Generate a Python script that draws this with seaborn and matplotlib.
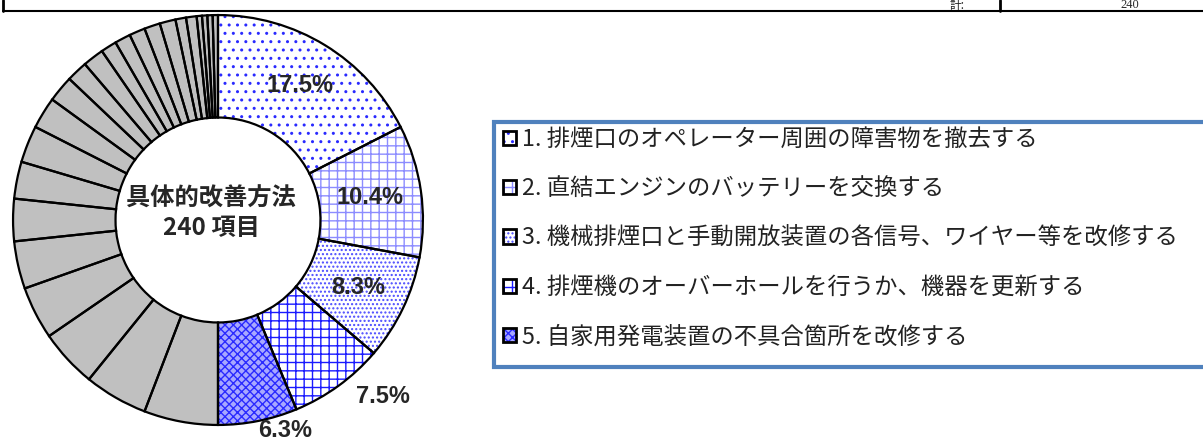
import matplotlib
matplotlib.use('Agg')
import matplotlib.pyplot as plt
import matplotlib.patches as mpatches
from matplotlib.lines import Line2D
from matplotlib.legend_handler import HandlerTuple
from matplotlib import font_manager
import numpy as np
import seaborn as sns

# Set default plot style
sns.set_style('white')
plt.rcParams['font.family'] = ['Noto Sans CJK JP', 'DejaVu Sans']

# data
legend_labels = [
    '1. 排煙口のオペレーター周囲の障害物を撤去する',
    '2. 直結エンジンのバッテリーを交換する',
    '3. 機械排煙口と手動開放装置の各信号、ワイヤー等を改修する',
    '4. 排煙機のオーバーホールを行うか、機器を更新する',
    '5. 自家用発電装置の不具合箇所を改修する',
]
top_counts = [42, 25, 20, 18, 15]
other_counts = [14, 12, 11, 10, 9, 8, 7, 7, 6, 5, 4, 4, 3, 3, 3, 3, 3, 2, 2, 1, 1, 1, 1]
pct_labels = ['17.5%', '10.4%', '8.3%', '7.5%', '6.3%']
center_title = '具体的改善方法'
center_sub = '240 項目'
table_label = '計:'
table_value = '240'

# styles
top_faces = ['white', 'white', 'white', 'white', '#a8a8ff']
top_hatches = ['..', '++', '....', '++', 'xxxx']
top_hatch_colors = ['#2a2aff', '#8c8cff', '#4a4aff', '#1a1aff', '#2a2aff']
gray = '#c0c0c0'
frame_blue = '#4f81bd'

names = {f.name for f in font_manager.fontManager.ttflist}
pct_family = 'Liberation Sans Narrow' if 'Liberation Sans Narrow' in names else 'Liberation Sans'

W, H = 1203, 446
fig = plt.figure(figsize=(W / 100, H / 100), dpi=100)
cx, cy, R = 218, 220, 207
ax = fig.add_axes([(cx - R) / W, (H - cy - R) / H, 2 * R / W, 2 * R / H])

counts = top_counts + other_counts
faces = top_faces + [gray] * len(other_counts)
ring = 0.5

# fill + hatch layer (hatch colour follows the edge colour)
wedges, _ = ax.pie(counts, startangle=90, counterclock=False, radius=1, colors=faces,
                   wedgeprops=dict(width=ring, linewidth=0))
for w, h, hc in zip(wedges, top_hatches, top_hatch_colors):
    w.set_edgecolor(hc)
    w.set_hatch(h)
# outline layer
ax.pie(counts, startangle=90, counterclock=False, radius=1, colors=['none'] * len(counts),
       wedgeprops=dict(width=ring, edgecolor='black', linewidth=1.6))
ax.set_xlim(-1.01, 1.01)
ax.set_ylim(-1.01, 1.01)
ax.set_aspect('equal')
ax.axis('off')

# percentage labels
label_r = [0.77, 0.75, 0.76, 1.18, 1.08]
label_shift = [0, 0, 0, 7, 6.5]
for w, txt, r, d in zip(wedges, pct_labels, label_r, label_shift):
    mid = np.deg2rad((w.theta1 + w.theta2) / 2 + d)
    ax.text(r * np.cos(mid), r * np.sin(mid), txt, ha='center', va='center',
            fontsize=17, fontweight='bold', family=pct_family, clip_on=False, zorder=5)

ax.text(-0.034, 0.106, center_title, ha='center', va='center', fontsize=17.5, fontweight='bold')
ax.text(-0.034, -0.039, center_sub, ha='center', va='center', fontsize=17.5, fontweight='bold')

# table fragment at top
fig.add_artist(Line2D([3 / W, 1], [1 - 11 / H] * 2, transform=fig.transFigure, color='black', lw=1.5))
fig.add_artist(Line2D([3 / W] * 2, [1, 1 - 11 / H], transform=fig.transFigure, color='black', lw=2))
fig.add_artist(Line2D([1000 / W] * 2, [1, 1 - 11 / H], transform=fig.transFigure, color='black', lw=2))
fig.text(957 / W, 1 - 5 / H, table_label, ha='center', va='center', fontsize=8.5)
fig.text(1130 / W, 1 - 5 / H, table_value, ha='center', va='center', fontsize=9,
         family='Liberation Serif')

# legend box
fig.add_artist(mpatches.Rectangle((494 / W, 1 - 367 / H), (1240 - 494) / W, (367 - 122) / H,
                                  transform=fig.transFigure, facecolor='white',
                                  edgecolor=frame_blue, linewidth=3, zorder=1))
handles = []
for f, h, hc in zip(top_faces, top_hatches, top_hatch_colors):
    fill = mpatches.Patch(facecolor=f, edgecolor=hc, linewidth=0, hatch=h)
    border = mpatches.Patch(facecolor='none', edgecolor='black', linewidth=2)
    handles.append((fill, border))
leg = fig.legend(handles, legend_labels, handler_map={tuple: HandlerTuple(ndivide=1)},
                 loc='upper left', bbox_to_anchor=(503 / W, 1 - 128 / H), frameon=False,
                 borderpad=0, borderaxespad=0, fontsize=16.8, handlelength=0.57,
                 handleheight=0.57, handletextpad=0.25, labelspacing=1.13)
for t in leg.get_texts():
    t.set_color('#222222')

fig.savefig('out.png', dpi=100)
